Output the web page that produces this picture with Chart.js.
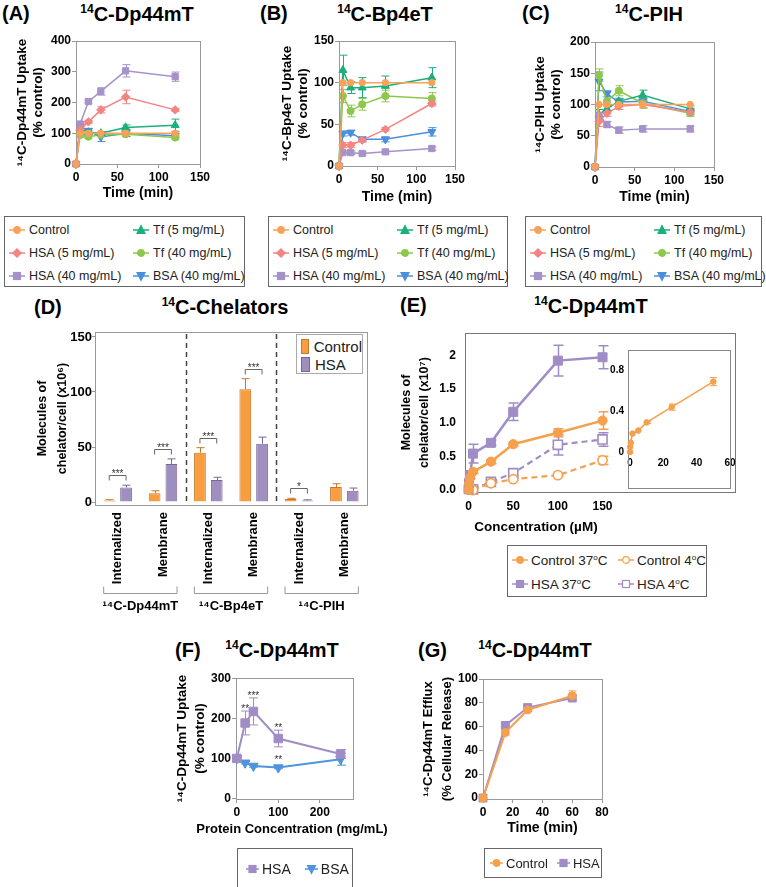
<!DOCTYPE html>
<html>
<head>
<meta charset="utf-8">
<title>14C-chelator uptake</title>
<script src="https://cdn.jsdelivr.net/npm/chart.js"></script>
<style>
  body { margin: 0; background: #fff; }
  #fig { position: relative; width: 766px; height: 887px; overflow: hidden; background: #fff;
         font-family: "Liberation Sans", Arial, sans-serif; color: #000; }
  .lbl { position: absolute; font-weight: bold; white-space: nowrap; transform: translateY(-50%); line-height: 1; }
  .ttl { transform: translate(-50%, -50%); }
  .legend { position: absolute; border: 1px solid #666; box-sizing: border-box; background: #fff;
            white-space: nowrap; color: #222; }
  .legend .it { display: flex; align-items: center; }
  .legend svg { flex: none; }
  sup { font-size: 60%; vertical-align: super; line-height: 0; }
</style>
</head>
<body>
<div id="fig"></div>
<script>
// ========================================
// DATA
// ========================================

// (A-C) uptake over time, % of control; one row per series, same order as seriesNames
const seriesNames = ['Control', 'HSA (5 mg/mL)', 'HSA (40 mg/mL)', 'Tf (5 mg/mL)', 'Tf (40 mg/mL)', 'BSA (40 mg/mL)'];
const timesMin = [0, 5, 15, 30, 60, 120];
const timeTicks = [0, 50, 100, 150];
const dpTicks = [0, 100, 200, 300, 400];
const bpTicks = [0, 50, 100, 150];
const pihTicks = [0, 50, 100, 150, 200];

const dpUptake = [
    [0, 100, 100, 100, 100, 100],
    [0, 112, 137, 176, 218, 176],
    [0, 130, 203, 236, 303, 284],
    [0, 116, 103, 100, 119, 126],
    [0, 94, 89, 95, 97, 86],
    [0, 122, 108, 88, 100, 92]
];
const dpUptakeErr = [
    [0, 0, 0, 0, 0, 0],
    [0, 5, 5, 10, 22, 5],
    [0, 8, 5, 12, 20, 15],
    [0, 8, 5, 5, 8, 20],
    [0, 8, 5, 5, 8, 5],
    [0, 8, 8, 15, 10, 5]
];
const bpUptake = [
    [0, 100, 100, 100, 100, 100],
    [0, 25, 25, 31, 44, 75],
    [0, 16, 16, 15, 17, 21],
    [0, 115, 94, 94, 96, 106],
    [0, 84, 66, 74, 84, 81],
    [0, 39, 40, 32, 32, 41]
];
const bpUptakeErr = [
    [0, 0, 0, 0, 0, 0],
    [0, 3, 3, 2, 2, 3],
    [0, 2, 2, 2, 2, 2],
    [0, 18, 7, 12, 12, 12],
    [0, 8, 7, 7, 7, 7],
    [0, 3, 3, 3, 3, 5]
];
const pihUptake = [
    [0, 100, 100, 100, 100, 100],
    [0, 73, 86, 97, 100, 88],
    [0, 82, 68, 59, 61, 61],
    [0, 84, 93, 105, 115, 93],
    [0, 147, 105, 122, 102, 86],
    [0, 137, 117, 104, 105, 89]
];
const pihUptakeErr = [
    [0, 0, 0, 0, 0, 0],
    [0, 8, 5, 5, 5, 3],
    [0, 5, 5, 5, 5, 5],
    [0, 8, 5, 5, 8, 5],
    [0, 10, 8, 8, 8, 5],
    [0, 15, 5, 5, 5, 5]
];

// (D) molecules of chelator per cell (x10^6)
const chelCategories = ['Internalized', 'Membrane', 'Internalized', 'Membrane', 'Internalized', 'Membrane'];
const chelGroups = ['¹⁴C-Dp44mT', '¹⁴C-Bp4eT', '¹⁴C-PIH'];
const chelControl = [1.5, 8, 44.8, 102.4, 2.8, 13.6];
const chelControlErr = [0.6, 2.2, 4.6, 9.7, 0.6, 3];
const chelHsa = [13.3, 34.6, 20, 53, 1.5, 10.3];
const chelHsaErr = [2, 4.6, 2.5, 6, 0.5, 2.4];
const chelSig = ['***', '***', '***', '***', '*', ''];
const chelTicks = [0, 50, 100, 150];

// (E) 14C-Dp44mT vs concentration (x10^7 molecules/cell)
const eSeries = ['Control 37°C', 'HSA 37°C', 'Control 4°C', 'HSA 4°C'];
const concWarm = [0, 0.5, 1.5, 5, 25, 50, 100, 150];
const concCold = [5, 25, 50, 100, 150];
const ctrl37 = [0, 0.09, 0.18, 0.27, 0.42, 0.68, 0.85, 1.03];
const ctrl37Err = [0, 0, 0, 0.02, 0.03, 0.03, 0.06, 0.13];
const hsa37 = [0.01, 0.1, 0.22, 0.54, 0.7, 1.16, 1.92, 1.97];
const hsa37Err = [0, 0, 0.05, 0.14, 0.04, 0.13, 0.23, 0.17];
const ctrl4 = [0, 0.1, 0.16, 0.22, 0.44];
const ctrl4Err = [0, 0, 0.02, 0.02, 0.06];
const hsa4 = [0.01, 0.12, 0.25, 0.67, 0.75];
const hsa4Err = [0, 0.02, 0.04, 0.15, 0.1];
const concTicks = [0, 50, 100, 150];
const eTicks = [0, 0.5, 1, 1.5, 2];
const eTickLabels = ['0.0', '0.5', '1.0', '1.5', '2'];
// inset: Control 37°C at low concentration
const insetConc = [0, 0.1, 0.5, 1.5, 5, 10, 25, 50];
const insetCtrl = [0, 0.05, 0.09, 0.18, 0.21, 0.29, 0.44, 0.69];
const insetCtrlErr = [0, 0, 0, 0, 0, 0.01, 0.03, 0.04];
const insetXTicks = [0, 20, 40, 60];
const insetYTicks = [0, 0.4, 0.8];

// (F) uptake vs protein concentration
const proteinConc = [0, 20, 40, 100, 250];
const fHsa = [100, 189, 218, 150, 111];
const fHsaErr = [3, 30, 34, 21, 11];
const fHsaSig = ['', '**', '***', '**', ''];
const fBsa = [100, 89, 81, 77, 98];
const fBsaErr = [3, 3, 3, 3, 15];
const fBsaSig = ['', '', '', '**', ''];
const fXTicks = [0, 100, 200];
const fYTicks = [0, 100, 200, 300];

// (G) efflux over time
const effluxTime = [0, 15, 30, 60];
const gControl = [0, 55, 74, 86];
const gControlErr = [0, 2, 1, 4];
const gHsa = [0, 61, 76, 84];
const gHsaErr = [0, 1, 1, 2];
const gXTicks = [0, 20, 40, 60, 80];
const gYTicks = [0, 20, 40, 60, 80, 100];

// ========================================
// STYLE
// ========================================
const seriesColors = ['#F9A15A', '#F28482', '#A592C9', '#1BAF7A', '#8CC84B', '#4A8FDB'];
const seriesMarkers = [
    { style: 'circle', radius: 3.2, rotation: 0 },
    { style: 'rectRot', radius: 4.2, rotation: 0 },
    { style: 'rect', radius: 4.4, rotation: 0 },
    { style: 'triangle', radius: 4.6, rotation: 0 },
    { style: 'circle', radius: 3.6, rotation: 0 },
    { style: 'triangle', radius: 4.6, rotation: 180 }
];
const ORANGE = '#F5A04C';
const PURPLE = '#A08DC6';
const BLUE = '#4E95DC';
const FONT = '"Liberation Sans", "DejaVu Sans", Arial, sans-serif';

Chart.defaults.font.family = FONT;
Chart.defaults.color = '#000';

const fig = document.getElementById('fig');

// ========================================
// PLUGINS
// ========================================

function valueAt(ds, j) {
    const d = ds.data[j];
    return typeof d === 'object' ? d.y : d;
}

// Error bars (and significance stars) from dataset.errors / dataset.stars
const errorBars = {
    id: 'errorBars',
    beforeDatasetsDraw(chart) {
        const ctx = chart.ctx;
        chart.data.datasets.forEach((ds, i) => {
            if (!ds.errors) return;
            const meta = chart.getDatasetMeta(i);
            const ys = chart.scales[meta.yAxisID];
            ctx.save();
            ctx.strokeStyle = ds.errorColor || ds.borderColor;
            ctx.lineWidth = ds.errorWidth || 1;
            meta.data.forEach((el, j) => {
                const e = ds.errors[j];
                if (!e) return;
                const v = valueAt(ds, j);
                const top = ys.getPixelForValue(v + e);
                const bot = ds.errorUp ? el.y : ys.getPixelForValue(v - e);
                const x = Math.round(el.x) + 0.5;
                const w = (ds.capWidth || 8) / 2;
                ctx.beginPath();
                ctx.moveTo(x, bot);
                ctx.lineTo(x, top);
                ctx.moveTo(x - w, top);
                ctx.lineTo(x + w, top);
                if (!ds.errorUp) {
                    ctx.moveTo(x - w, bot);
                    ctx.lineTo(x + w, bot);
                }
                ctx.stroke();
            });
            ctx.restore();
        });
    },
    afterDatasetsDraw(chart) {
        const ctx = chart.ctx;
        chart.data.datasets.forEach((ds, i) => {
            if (!ds.stars) return;
            const meta = chart.getDatasetMeta(i);
            const ys = chart.scales[meta.yAxisID];
            ctx.save();
            ctx.fillStyle = '#333';
            ctx.font = '10px ' + FONT;
            ctx.textAlign = 'center';
            ctx.textBaseline = 'alphabetic';
            meta.data.forEach((el, j) => {
                const s = ds.stars[j];
                if (!s) return;
                const v = valueAt(ds, j) + (ds.errors ? ds.errors[j] : 0);
                const top = Math.min(ys.getPixelForValue(v), el.y - ds.pointRadius);
                ctx.fillText(s, el.x, top + 1);
            });
            ctx.restore();
        });
    }
};

// Box round the plot area (GraphPad style)
const framePlugin = {
    id: 'frame',
    beforeDatasetsDraw(chart, args, opts) {
        if (!opts || !opts.color) return;
        const a = chart.chartArea;
        const ctx = chart.ctx;
        ctx.save();
        ctx.strokeStyle = opts.color;
        ctx.lineWidth = 1;
        ctx.strokeRect(Math.round(a.left) + 0.5, Math.round(a.top) + 0.5,
            Math.round(a.right - a.left + (opts.extendRight || 0)),
            Math.round(a.bottom - a.top + (opts.extendBottom || 0)));
        ctx.restore();
    }
};

Chart.register(errorBars, framePlugin);

// ========================================
// HELPERS
// ========================================

function makeCanvas(left, top, w, h) {
    const c = document.createElement('canvas');
    c.width = w;
    c.height = h;
    c.style.cssText = `position:absolute;left:${left}px;top:${top}px;width:${w}px;height:${h}px;`;
    fig.appendChild(c);
    return c;
}

function addText(html, x, y, size, center) {
    const d = document.createElement('div');
    d.className = 'lbl' + (center ? ' ttl' : '');
    d.style.cssText = `left:${x}px;top:${y}px;font-size:${size}px;`;
    d.innerHTML = html;
    fig.appendChild(d);
}

// o.tickLen: visible tick marks; o.tickGap: blank space between axis and labels
function axis(o) {
    const gap = o.tickGap !== undefined;
    const a = {
        type: o.type || 'linear',
        afterFit: s => { if (o.horizontal) s.height = o.size; else s.width = o.size; },
        ticks: {
            font: { size: o.tickSize || 12, weight: 'bold' },
            color: '#000',
            padding: o.tickPad ?? (gap ? 0 : 1),
            autoSkip: false,
            maxRotation: o.rotate || 0,
            minRotation: o.rotate || 0
        },
        grid: {
            drawOnChartArea: false,
            display: !gap && o.tickLen !== 0,
            drawTicks: gap || o.tickLen !== 0,
            tickLength: gap ? o.tickGap : (o.tickLen ?? 4),
            color: o.color || '#999'
        },
        border: { display: o.border !== false, color: o.color || '#999' },
        title: { display: false }
    };
    if (o.min !== undefined) { a.min = o.min; a.max = o.max; }
    if (o.ticks) a.afterBuildTicks = s => { s.ticks = o.ticks.map(v => ({ value: v })); };
    if (o.labels) a.ticks.callback = v => o.labels[o.ticks.indexOf(v)];
    if (o.title) {
        a.title = {
            display: true, text: o.title, color: '#000',
            font: { size: o.titleSize || 14, weight: 'bold', lineHeight: o.titleLh || 1.2 },
            padding: o.horizontal ? { top: 0, bottom: o.titlePad || 0 } : { top: o.titlePad || 0, bottom: 0 }
        };
    }
    return a;
}

function options(scales, padding, frame) {
    return {
        responsive: false,
        animation: false,
        events: [],
        layout: { padding },
        plugins: { legend: { display: false }, tooltip: { enabled: false }, frame: frame || {} },
        scales
    };
}

function markerSvg(color, shape, open, dashed, w) {
    const fill = open ? '#fff' : color;
    const cx = w / 2;
    const st = `fill="${fill}" stroke="${color}" stroke-width="1.2"`;
    let m;
    if (shape === 'circle') m = `<circle cx="${cx}" cy="6" r="3.3" ${st}/>`;
    else if (shape === 'rect') m = `<rect x="${cx - 3.5}" y="2.5" width="7" height="7" ${st}/>`;
    else if (shape === 'rectRot') m = `<polygon points="${cx},1.8 ${cx + 4.2},6 ${cx},10.2 ${cx - 4.2},6" ${st}/>`;
    else if (shape === 'triangle') m = `<polygon points="${cx},1.5 ${cx + 4},9.5 ${cx - 4},9.5" ${st}/>`;
    else m = `<polygon points="${cx - 4},2.5 ${cx + 4},2.5 ${cx},10.5" ${st}/>`;
    const dash = dashed ? ' stroke-dasharray="3 2"' : '';
    return `<svg width="${w}" height="12" viewBox="0 0 ${w} 12"><line x1="0" y1="6" x2="${w}" y2="6" stroke="${color}" stroke-width="1.5"${dash}/>${m}</svg>`;
}

function addLegend(box, items, css, svgW, gap) {
    const d = document.createElement('div');
    d.className = 'legend';
    d.style.cssText = `left:${box.left}px;top:${box.top}px;width:${box.width}px;height:${box.height}px;` + css;
    d.innerHTML = items.map(it =>
        `<div class="it">${markerSvg(it.color, it.shape, it.open, it.dashed, svgW)}<span style="margin-left:${gap}px">${it.label}</span></div>`
    ).join('');
    fig.appendChild(d);
    return d;
}

function shapeName(m) {
    return m.style === 'triangle' && m.rotation === 180 ? 'triangleDown' : m.style;
}

function lineSet(label, xs, ys, errs, color, marker, extra) {
    return Object.assign({
        label,
        data: xs.map((x, j) => ({ x, y: ys[j] })),
        errors: errs,
        borderColor: color,
        backgroundColor: color,
        pointBackgroundColor: color,
        pointBorderColor: color,
        pointStyle: marker.style,
        pointRadius: marker.radius,
        pointRotation: marker.rotation || 0,
        pointBorderWidth: 1,
        borderWidth: 1.5,
        clip: false
    }, extra || {});
}

// ========================================
// (A-C) UPTAKE PANELS
// ========================================

function uptakePanel(p, rows, errs, yMax, yTicks, yTitle) {
    const datasets = seriesNames.map((name, i) =>
        lineSet(name, timesMin, rows[i], errs[i], seriesColors[i], seriesMarkers[i], { capWidth: 8 }));
    new Chart(makeCanvas(p.left, 30, 215, 180), {
        type: 'line',
        data: { datasets },
        options: options({
            x: axis({ horizontal: true, size: p.xSize, min: 0, max: 150, ticks: timeTicks, tickPad: 2,
                      title: 'Time (min)', titleSize: 14, titlePad: p.xTitlePad }),
            y: axis({ size: p.ySize, min: 0, max: yMax, ticks: yTicks, title: yTitle, titleSize: 13.5,
                      titlePad: p.yTitlePad })
        }, { top: p.top, right: p.right, left: 0, bottom: 0 }, { color: '#999' })
    });
    addLegend({ left: p.legLeft, top: 216, width: p.legWidth, height: 71 },
        seriesNames.map((name, i) => ({ label: name, color: seriesColors[i], shape: shapeName(seriesMarkers[i]) })),
        'display:grid;grid-auto-flow:column;grid-template-rows:repeat(3,23px);grid-template-columns:124px auto;padding:1px 0 0 4px;font-size:12.5px;',
        16, 4);
}

uptakePanel({ left: 0, ySize: 76, xSize: 46, top: 11, right: 15, yTitlePad: 14, xTitlePad: 8.6, legLeft: 4, legWidth: 241 },
    dpUptake, dpUptakeErr, 400, dpTicks, ['¹⁴C-Dp44mT Uptake', '(% control)']);
uptakePanel({ left: 262, ySize: 77, xSize: 44, top: 11, right: 22, yTitlePad: 17, xTitlePad: 4.6, legLeft: 268, legWidth: 240 },
    bpUptake, bpUptakeErr, 150, bpTicks, ['¹⁴C-Bp4eT Uptake', '(% control)']);
uptakePanel({ left: 515, ySize: 80, xSize: 43, top: 12, right: 16, yTitlePad: 17, xTitlePad: 4.6, legLeft: 525, legWidth: 237 },
    pihUptake, pihUptakeErr, 200, pihTicks, ['¹⁴C-PIH Uptake', '(% control)']);

addText('(A)', 2, 13, 20, false);
addText('<sup>14</sup>C-Dp44mT', 137, 14, 20, true);
addText('(B)', 260, 13, 20, false);
addText('<sup>14</sup>C-Bp4eT', 385, 14, 20, true);
addText('(C)', 522, 13, 20, false);
addText('<sup>14</sup>C-PIH', 649, 14, 20, true);

// ========================================
// (D) CHELATORS BAR CHART
// ========================================

const chelatorMarks = {
    id: 'chelatorMarks',
    afterDatasetsDraw(chart) {
        const { ctx, chartArea: a, scales: { x, y } } = chart;
        const m0 = chart.getDatasetMeta(0);
        const m1 = chart.getDatasetMeta(1);
        ctx.save();
        // dashed separators between compounds
        ctx.strokeStyle = '#444';
        ctx.lineWidth = 1.5;
        ctx.setLineDash([5, 4]);
        [1, 3].forEach(i => {
            const px = Math.round((x.getPixelForTick(i) + x.getPixelForTick(i + 1)) / 2) + 0.5;
            ctx.beginPath();
            ctx.moveTo(px, a.top + 2);
            ctx.lineTo(px, a.bottom - 4);
            ctx.stroke();
        });
        ctx.setLineDash([]);
        // significance brackets
        ctx.strokeStyle = '#666';
        ctx.lineWidth = 1;
        ctx.fillStyle = '#333';
        ctx.font = '10px ' + FONT;
        ctx.textAlign = 'center';
        chelSig.forEach((s, i) => {
            if (!s) return;
            const top = Math.max(chelControl[i] + chelControlErr[i], chelHsa[i] + chelHsaErr[i]);
            const by = Math.round(y.getPixelForValue(top)) - 9.5;
            const x0 = m0.data[i].x;
            const x1 = m1.data[i].x;
            ctx.beginPath();
            ctx.moveTo(x0, by + 5);
            ctx.lineTo(x0, by);
            ctx.lineTo(x1, by);
            ctx.lineTo(x1, by + 5);
            ctx.stroke();
            ctx.fillText(s, (x0 + x1) / 2, by + 1);
        });
        // compound brackets under the category labels
        const gy = Math.round(a.bottom + 88) + 0.5;
        ctx.strokeStyle = '#999';
        ctx.font = 'bold 13px ' + FONT;
        ctx.fillStyle = '#000';
        ctx.textBaseline = 'middle';
        chelGroups.forEach((g, k) => {
            const l = x.getPixelForTick(2 * k) - 14;
            const r = x.getPixelForTick(2 * k + 1) + 14;
            ctx.beginPath();
            ctx.moveTo(l, gy - 7);
            ctx.lineTo(l, gy);
            ctx.lineTo(r, gy);
            ctx.lineTo(r, gy - 7);
            ctx.stroke();
            ctx.fillText(g, (l + r) / 2, gy + 13);
        });
        ctx.restore();
    }
};

new Chart(makeCanvas(0, 324, 380, 300), {
    type: 'bar',
    data: {
        labels: chelCategories,
        datasets: [
            { label: 'Control', data: chelControl, errors: chelControlErr, errorUp: true, capWidth: 8,
              backgroundColor: '#F89D40', borderColor: '#C8782A', errorColor: '#C8782A', borderWidth: 1,
              categoryPercentage: 0.74, barPercentage: 0.7 },
            { label: 'HSA', data: chelHsa, errors: chelHsaErr, errorUp: true, capWidth: 8,
              backgroundColor: '#9F8FBF', borderColor: '#76679A', errorColor: '#76679A', borderWidth: 1,
              categoryPercentage: 0.74, barPercentage: 0.7 }
        ]
    },
    options: options({
        x: axis({ type: 'category', horizontal: true, size: 119, tickGap: 7, border: false, rotate: 90,
                  tickSize: 13 }),
        y: axis({ size: 95, min: -2.7, max: 154.5, ticks: chelTicks, tickSize: 13, tickLen: 3, tickPad: 0,
                  title: ['Molecules of', 'chelator/cell (x10⁶)'], titleSize: 12.5, titleLh: 1.6, titlePad: 33 })
    }, { top: 8, right: 13, left: 0, bottom: 0 }, { color: '#999' }),
    plugins: [chelatorMarks]
});

// D legend: filled swatches for the two bar series
(function dLegend() {
    const box = addLegend({ left: 296, top: 334, width: 67, height: 40 }, [],
        'border-color:#aaa;padding:2px 0 0 4px;font-size:15px;', 0, 0);
    const sw = [['Control', '#F89D40', '#C8782A'], ['HSA', '#9F8FBF', '#76679A']];
    box.innerHTML = sw.map(s =>
        `<div class="it" style="height:18px"><span style="display:inline-block;width:7px;height:13px;background:${s[1]};border:1px solid ${s[2]}"></span><span style="margin-left:5px">${s[0]}</span></div>`
    ).join('');
})();

addText('(D)', 34, 307, 20, false);
addText('<sup>14</sup>C-Chelators', 225, 307, 20, true);

// ========================================
// (E) CONCENTRATION DEPENDENCE
// ========================================

const eMarkers = {
    circle: { style: 'circle', radius: 4.6 },
    square: { style: 'rect', radius: 6.4 }
};

new Chart(makeCanvas(395, 325, 345, 210), {
    type: 'line',
    data: {
        datasets: [
            lineSet(eSeries[0], concWarm, ctrl37, ctrl37Err, ORANGE, eMarkers.circle,
                { borderWidth: 2.5, errorWidth: 1.5, capWidth: 10 }),
            lineSet(eSeries[1], concWarm, hsa37, hsa37Err, PURPLE, eMarkers.square,
                { borderWidth: 2.5, errorWidth: 1.5, capWidth: 10 }),
            lineSet(eSeries[2], concCold, ctrl4, ctrl4Err, ORANGE, eMarkers.circle,
                { borderWidth: 2.2, borderDash: [6, 4], pointBackgroundColor: '#fff', pointBorderWidth: 1.6,
                  errorWidth: 1.5, capWidth: 10 }),
            lineSet(eSeries[3], concCold, hsa4, hsa4Err, PURPLE, eMarkers.square,
                { borderWidth: 2.2, borderDash: [6, 4], pointBackgroundColor: '#fff', pointBorderWidth: 1.6,
                  errorWidth: 1.5, capWidth: 10 })
        ]
    },
    options: options({
        x: axis({ horizontal: true, size: 43, min: -4, max: 155, ticks: concTicks, tickGap: 7,
                  border: false, title: 'Concentration (µM)', titleSize: 13.5, titlePad: 0 }),
        y: axis({ size: 70, min: -0.03, max: 2.33, ticks: eTicks, labels: eTickLabels, tickGap: 9,
                  border: false, title: ['Molecules of', 'chelator/cell (x10⁷)'], titleSize: 12.5, titleLh: 1.44,
                  titlePad: 3 })
    }, { top: 8, right: 133, left: 0, bottom: 0 }, { color: '#777', extendRight: 128 })
});

// inset
new Chart(makeCanvas(596, 342, 142, 150), {
    type: 'line',
    data: {
        datasets: [
            lineSet('Control 37°C', insetConc, insetCtrl, insetCtrlErr, ORANGE, { style: 'circle', radius: 2.8 },
                { borderWidth: 1.5, capWidth: 7 })
        ]
    },
    options: options({
        x: axis({ horizontal: true, size: 38, min: -1.2, max: 60, ticks: insetXTicks, tickGap: 3,
                  tickSize: 10, border: false }),
        y: axis({ size: 32, min: -0.02, max: 1.0, ticks: insetYTicks, tickGap: 4, tickSize: 10,
                  border: false })
    }, { top: 8, right: 8, left: 0, bottom: 0 }, { color: '#888', extendBottom: 34 })
});

addLegend({ left: 507, top: 545, width: 200, height: 52 },
    [
        { label: 'Control 37<sup>o</sup>C', color: ORANGE, shape: 'circle' },
        { label: 'HSA 37<sup>o</sup>C', color: PURPLE, shape: 'rect' },
        { label: 'Control 4<sup>o</sup>C', color: ORANGE, shape: 'circle', open: true },
        { label: 'HSA 4<sup>o</sup>C', color: PURPLE, shape: 'rect', open: true }
    ],
    'display:grid;grid-auto-flow:column;grid-template-rows:repeat(2,24px);grid-template-columns:106px auto;padding:2px 0 0 4px;font-size:13.5px;',
    16, 3);

addText('(E)', 400, 305, 20, false);
addText('<sup>14</sup>C-Dp44mT', 591, 306, 20, true);

// ========================================
// (F) PROTEIN CONCENTRATION
// ========================================

new Chart(makeCanvas(165, 668, 230, 175), {
    type: 'line',
    data: {
        datasets: [
            lineSet('HSA', proteinConc, fHsa, fHsaErr, PURPLE, { style: 'rect', radius: 6 },
                { borderWidth: 2, capWidth: 9, stars: fHsaSig }),
            lineSet('BSA', proteinConc, fBsa, fBsaErr, BLUE, { style: 'triangle', radius: 5.5, rotation: 180 },
                { borderWidth: 2, capWidth: 9, stars: fBsaSig })
        ]
    },
    options: options({
        x: axis({ horizontal: true, size: 44, min: -2, max: 280, ticks: fXTicks, tickPad: 2 }),
        y: axis({ size: 71, min: -2, max: 302, ticks: fYTicks, title: ['¹⁴C-Dp44mT Uptake', '(% control)'],
                  titleSize: 13.5, titleLh: 1.33, titlePad: 8 })
    }, { top: 10, right: 42, left: 0, bottom: 0 }, { color: '#999' })
});
// x title is wider than the plot, so it is set as page text
addText('Protein Concentration (mg/mL)', 292, 828, 13, true);

addLegend({ left: 237, top: 848, width: 116, height: 45 },
    [
        { label: 'HSA', color: PURPLE, shape: 'rect' },
        { label: 'BSA', color: BLUE, shape: 'triangleDown' }
    ],
    'display:flex;gap:14px;align-items:flex-start;padding:12px 0 0 8px;font-size:14px;', 13, 3);

addText('(F)', 175, 650, 20, false);
addText('<sup>14</sup>C-Dp44mT', 282, 650, 20, true);

// ========================================
// (G) EFFLUX
// ========================================

new Chart(makeCanvas(415, 668, 205, 175), {
    type: 'line',
    data: {
        datasets: [
            lineSet('Control', effluxTime, gControl, gControlErr, ORANGE, { style: 'circle', radius: 4 },
                { borderWidth: 2, capWidth: 8 }),
            lineSet('HSA', effluxTime, gHsa, gHsaErr, PURPLE, { style: 'rect', radius: 5.6 },
                { borderWidth: 2, capWidth: 8 })
        ]
    },
    options: options({
        x: axis({ horizontal: true, size: 44, min: 0, max: 80, ticks: gXTicks, tickPad: 2,
                  title: 'Time (min)', titleSize: 14, titlePad: 6.6 }),
        y: axis({ size: 68, min: -0.8, max: 100, ticks: gYTicks,
                  title: ['¹⁴C-Dp44mT Efflux', '(% Cellular Release)'], titleSize: 13, titleLh: 1.46, titlePad: 3.5 })
    }, { top: 11, right: 18, left: 0, bottom: 0 }, { color: '#999' })
});

addLegend({ left: 484, top: 848, width: 118, height: 30 },
    [
        { label: 'Control', color: ORANGE, shape: 'circle' },
        { label: 'HSA', color: PURPLE, shape: 'rect' }
    ],
    'display:flex;gap:9px;align-items:center;padding:0 0 0 5px;font-size:13px;', 13, 3);

addText('(G)', 418, 650, 20, false);
addText('<sup>14</sup>C-Dp44mT', 535, 650, 20, true);
</script>
</body>
</html>
